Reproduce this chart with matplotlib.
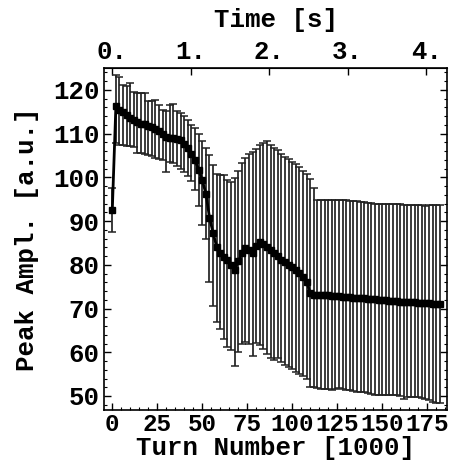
import numpy as np
import matplotlib
matplotlib.use('Agg')
import matplotlib.pyplot as plt

# turn number [1000] of each measurement
turns = [0, 2, 4, 6, 8, 10, 12, 14, 16, 18, 20, 22, 24, 26, 28, 30, 32, 34, 36, 38,
         40, 42, 44, 46, 48, 50, 52, 54, 56, 58, 60, 62, 64, 66, 68, 70, 72, 74, 76, 78,
         80, 82, 84, 86, 88, 90, 92, 94, 96, 98, 100, 102, 104, 106, 108, 110, 112, 114, 116, 118,
         120, 122, 124, 126, 128, 130, 132, 134, 136, 138, 140, 142, 144, 146, 148, 150, 152, 154, 156, 158,
         160, 162, 164, 166, 168, 170, 172, 174, 176, 178, 180, 182]

# mean peak amplitude
peak = [92.5, 116.4, 115.5, 114.9, 114.3, 113.6, 113.0, 112.7, 112.3, 112.1, 111.8, 111.4, 111.0, 110.6, 110.0, 109.3, 109.0, 108.9, 108.8, 108.5,
        107.6, 106.6, 105.3, 103.9, 101.7, 99.3, 96.3, 90.8, 87.3, 84.1, 82.8, 81.8, 81.0, 80.0, 78.9, 80.8, 82.6, 83.8, 83.4, 82.7,
        84.3, 85.2, 84.8, 84.0, 83.3, 82.6, 81.9, 81.2, 80.6, 80.0, 79.4, 78.8, 78.2, 77.3, 76.1, 73.5, 73.2, 73.2, 73.1, 73.1,
        73.0, 72.9, 72.9, 72.8, 72.7, 72.7, 72.6, 72.5, 72.5, 72.4, 72.3, 72.2, 72.2, 72.1, 72.0, 71.9, 71.9, 71.8, 71.7, 71.7,
        71.6, 71.5, 71.5, 71.4, 71.4, 71.3, 71.3, 71.2, 71.2, 71.1, 71.1, 71.0]

# upper end of the error bars
upper = [97.5, 123.3, 122.9, 121.0, 120.8, 121.5, 119.6, 119.3, 119.3, 119.2, 117.5, 117.4, 117.7, 116.5, 115.5, 115.2, 116.5, 116.8, 115.2, 114.6,
         114.0, 113.0, 112.0, 111.2, 109.8, 108.4, 106.6, 105.0, 102.8, 100.8, 100.5, 100.5, 99.5, 99.0, 99.8, 101.5, 103.2, 104.5, 105.4, 105.8,
         106.5, 107.3, 107.9, 108.2, 107.3, 106.8, 106.2, 105.3, 104.7, 104.2, 103.6, 103.0, 102.3, 101.5, 100.7, 99.6, 97.6, 94.9, 94.9, 94.8,
         94.8, 94.8, 94.8, 94.8, 94.7, 94.7, 94.6, 94.6, 94.5, 94.4, 94.3, 94.2, 94.1, 94.0, 93.9, 93.9, 93.9, 93.8, 93.8, 93.8,
         93.8, 93.7, 93.7, 93.7, 93.6, 93.6, 93.6, 93.5, 93.6, 93.6, 93.6, 93.6]

# lower end of the error bars
lower = [87.5, 107.8, 107.5, 107.3, 107.2, 107.1, 107.0, 105.5, 105.5, 105.4, 105.2, 104.9, 104.5, 104.3, 104.0, 101.3, 103.5, 103.2, 102.6, 101.8,
         101.3, 100.3, 99.2, 97.0, 93.5, 89.0, 86.0, 76.0, 70.5, 67.0, 65.4, 63.0, 61.3, 60.6, 56.8, 60.1, 61.9, 62.4, 61.8, 59.1,
         62.2, 61.6, 60.8, 59.6, 58.6, 58.2, 58.8, 57.8, 57.2, 56.6, 56.2, 55.6, 55.0, 54.6, 54.0, 52.0, 52.0, 51.8, 51.7, 51.7,
         51.6, 51.3, 51.5, 51.8, 51.5, 51.3, 51.3, 51.2, 51.0, 50.9, 50.8, 50.6, 50.5, 50.2, 50.2, 50.2, 50.2, 50.2, 50.2, 50.2,
         50.1, 49.4, 49.7, 49.7, 49.7, 49.7, 49.6, 49.3, 49.0, 48.6, 48.4, 48.4]

x_ticks = [0, 25, 50, 75, 100, 125, 150, 175]
y_ticks = [50, 60, 70, 80, 90, 100, 110, 120]
time_ticks = [0, 1, 2, 3, 4]
turns_per_second = 43.6   # [1000 turns / s]

font = {'family': 'Liberation Mono', 'weight': 'bold', 'size': 18.5}

fig = plt.figure(figsize=(4.55, 4.65), dpi=100)
ax = fig.add_axes([0.2286, 0.1183, 0.754, 0.7355])

x = np.array(turns)
m = np.array(peak)
yerr = [m - np.array(lower), np.array(upper) - m]

# error bars and the mean curve
ax.errorbar(x, m, yerr=yerr, fmt='none', ecolor='#222222', elinewidth=1.25,
            capsize=3.0, capthick=1.1)
ax.plot(x, m, color='black', lw=2.0, marker='s', ms=4.0, mec='black', mfc='black')

ax.set_xlim(-4.6, 186)
ax.set_ylim(46.8, 125)
ax.set_xticks(x_ticks)
ax.set_xticks(np.arange(0, 186, 5), minor=True)
ax.set_yticks(y_ticks)
ax.set_yticks(np.arange(48, 125, 2), minor=True)
ax.tick_params(which='both', direction='in', top=False, right=True)
ax.tick_params(which='major', length=5, width=1)
ax.tick_params(which='minor', length=2.5, width=0.8)
ax.tick_params(axis='x', pad=2)
ax.tick_params(axis='y', pad=3)
for lab in ax.get_yticklabels():
    lab.set_fontproperties(font)
    lab.set_fontsize(font['size'])
# bottom labels are packed tightly, as in the original
for lab in ax.get_xticklabels():
    lab.set_fontproperties(font)
    lab.set_fontsize(17.5)
for s in ax.spines.values():
    s.set_linewidth(1.2)

ax.set_xlabel('Turn Number [1000]', fontdict=font, labelpad=0)
ax.set_ylabel('Peak Ampl. [a.u.]', fontdict=font, labelpad=10)

# time axis on top
sec = ax.secondary_xaxis('top', functions=(lambda t: t / turns_per_second,
                                           lambda s: s * turns_per_second))
sec.set_xticks(time_ticks)
sec.set_xticklabels(['%d.' % t for t in time_ticks])
sec.tick_params(direction='in', length=5, width=1, pad=3)
for lab in sec.get_xticklabels():
    lab.set_fontproperties(font)
    lab.set_fontsize(font['size'])
sec.set_xlabel('Time [s]', fontdict=font, labelpad=9)

fig.savefig('out.png', dpi=100)
